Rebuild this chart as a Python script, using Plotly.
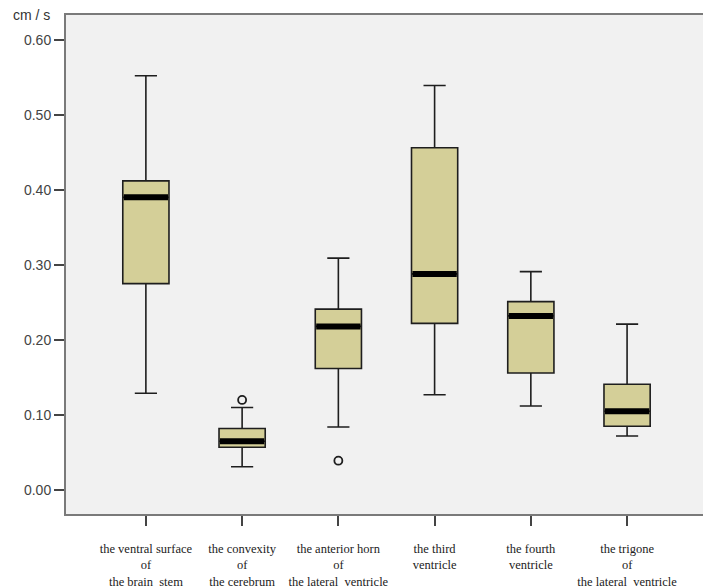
import plotly.graph_objects as go

# categories and box statistics (cm / s)
labels = ["the ventral surface<br>of<br>the brain  stem",
          "the convexity<br>of<br>the cerebrum",
          "the anterior horn<br>of<br>the lateral  ventricle",
          "the third<br>ventricle",
          "the fourth<br>ventricle",
          "the trigone<br>of<br>the lateral  ventricle"]
lower = [0.129, 0.031, 0.084, 0.127, 0.112, 0.072]
q1 = [0.275, 0.057, 0.162, 0.222, 0.156, 0.085]
median = [0.390, 0.065, 0.218, 0.288, 0.232, 0.105]
q3 = [0.412, 0.082, 0.241, 0.456, 0.251, 0.141]
upper = [0.552, 0.110, 0.309, 0.539, 0.291, 0.221]
outlier_cat = [1, 2]
outlier_val = [0.120, 0.039]

pos = list(range(len(labels)))
bw = 0.48

fig = go.Figure()
fig.add_trace(go.Box(
    x=pos, q1=q1, median=median, q3=q3, lowerfence=lower, upperfence=upper,
    width=bw, whiskerwidth=0.48,
    fillcolor="#d4cf98", line=dict(color="#1e1e1e", width=1.6),
    boxpoints=False, showlegend=False, hoverinfo="skip"))

# thick median bars
for i, m in zip(pos, median):
    fig.add_trace(go.Scatter(x=[i - bw / 2 + 0.01, i + bw / 2 - 0.01], y=[m, m], mode="lines",
                             line=dict(color="black", width=6), showlegend=False, hoverinfo="skip"))

fig.add_trace(go.Scatter(x=outlier_cat, y=outlier_val, mode="markers",
                         marker=dict(symbol="circle-open", size=8, color="#1e1e1e",
                                     line=dict(width=1.8)),
                         showlegend=False))

# page body has an 8px margin, so the figure is a bit smaller than the window
fig.update_layout(
    width=703, height=579,
    margin=dict(l=58, r=5, t=7, b=73, autoexpand=False),
    paper_bgcolor="white", plot_bgcolor="#f1f1f1",
    font=dict(family="Arial, Liberation Sans", color="#333"),
)
fig.update_xaxes(range=[-0.83, 5.82], tickvals=pos, ticktext=labels, automargin=False,
                 ticks="outside", ticklen=10, tickwidth=2, tickcolor="#444",
                 ticklabelstandoff=12,
                 showline=True, linecolor="#7a7a7a", linewidth=2, mirror=True,
                 showgrid=False, zeroline=False,
                 tickfont=dict(family="Liberation Serif, Times New Roman, serif", size=12.5, color="#222"))
fig.update_yaxes(range=[-0.032, 0.633], tickvals=[0, 0.1, 0.2, 0.3, 0.4, 0.5, 0.6],
                 tickformat=".2f", automargin=False,
                 ticks="outside", ticklen=10, tickwidth=2, tickcolor="#444",
                 showline=True, linecolor="#7a7a7a", linewidth=2, mirror=True,
                 showgrid=False, zeroline=False,
                 tickfont=dict(size=14, color="#444"))
fig.add_annotation(text="cm / s", xref="paper", yref="paper", x=-0.086, y=1.0,
                   xanchor="left", yanchor="middle", showarrow=False,
                   font=dict(size=14, color="#333"))

fig.write_html("out.html")
